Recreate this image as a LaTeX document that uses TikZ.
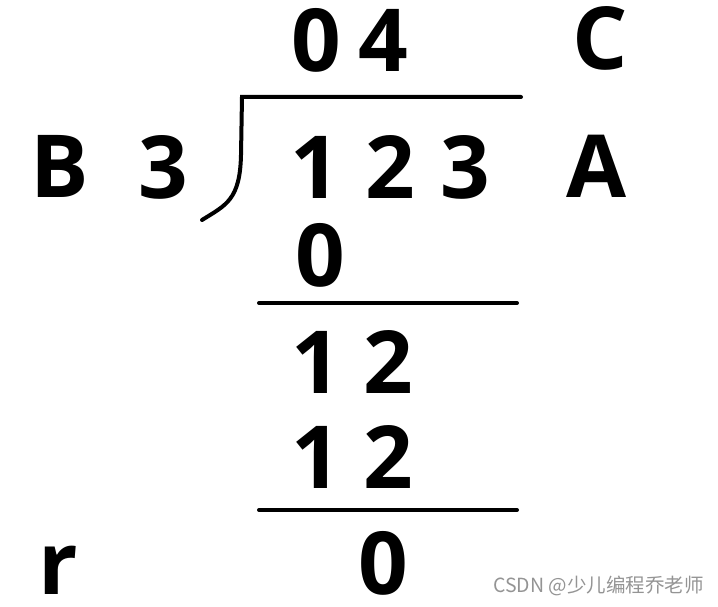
\documentclass[tikz,border=0pt]{standalone}
\usepackage{fontspec}
\setmainfont{Open Sans}
\newfontfamily\cjk{Noto Sans CJK SC}
\begin{document}
\begin{tikzpicture}[x=1pt,y=-1pt,
  glyph/.style={inner sep=0pt,anchor=base,text depth=0pt,font=\fontsize{87}{87}\selectfont\bfseries},
  rule/.style={line width=4pt,line cap=round}]
\useasboundingbox (0,0) rectangle (718,607);
% quotient
\node[glyph] (q0) at (316,72) {0};
\node[glyph] (q4) at (383,72) {4};
\node[glyph] (lC) at (600,70) {C};
% divisor row
\node[glyph] (lB) at (60,197) {B};
\node[glyph] (d3) at (163,198) {3};
\node[glyph] (n1) at (315,199) {1};
\node[glyph] (n2) at (390,199) {2};
\node[glyph] (n3) at (465,199) {3};
\node[glyph] (lA) at (597,197) {A};
% work
\node[glyph] (w0) at (320,286) {0};
\node[glyph] (a1) at (316,393) {1};
\node[glyph] (a2) at (388,393) {2};
\node[glyph] (b1) at (316,488) {1};
\node[glyph] (b2) at (388,488) {2};
\node[glyph] (lr) at (58,594) {r};
\node[glyph] (r0) at (383,594) {0};
% bracket and rules
\coordinate (bt) at (242,97);
\coordinate (br) at (521,97);
\coordinate (bb) at (202,220);
\draw[rule] (br) -- (bt) -- (241,155) .. controls (240,200) and (226,205) .. (bb);
\coordinate (l1a) at (259,303);
\coordinate (l1b) at (517,303);
\coordinate (l2a) at (259,510);
\coordinate (l2b) at (517,510);
\draw[rule] (l1a) -- (l1b);
\draw[rule] (l2a) -- (l2b);
% watermark
\node[inner sep=0pt,anchor=west,text=black!42,font=\cjk\fontsize{19.5}{20}\selectfont] (wm) at (493,586) {CSDN @少儿编程乔老师};
\end{tikzpicture}
\end{document}
